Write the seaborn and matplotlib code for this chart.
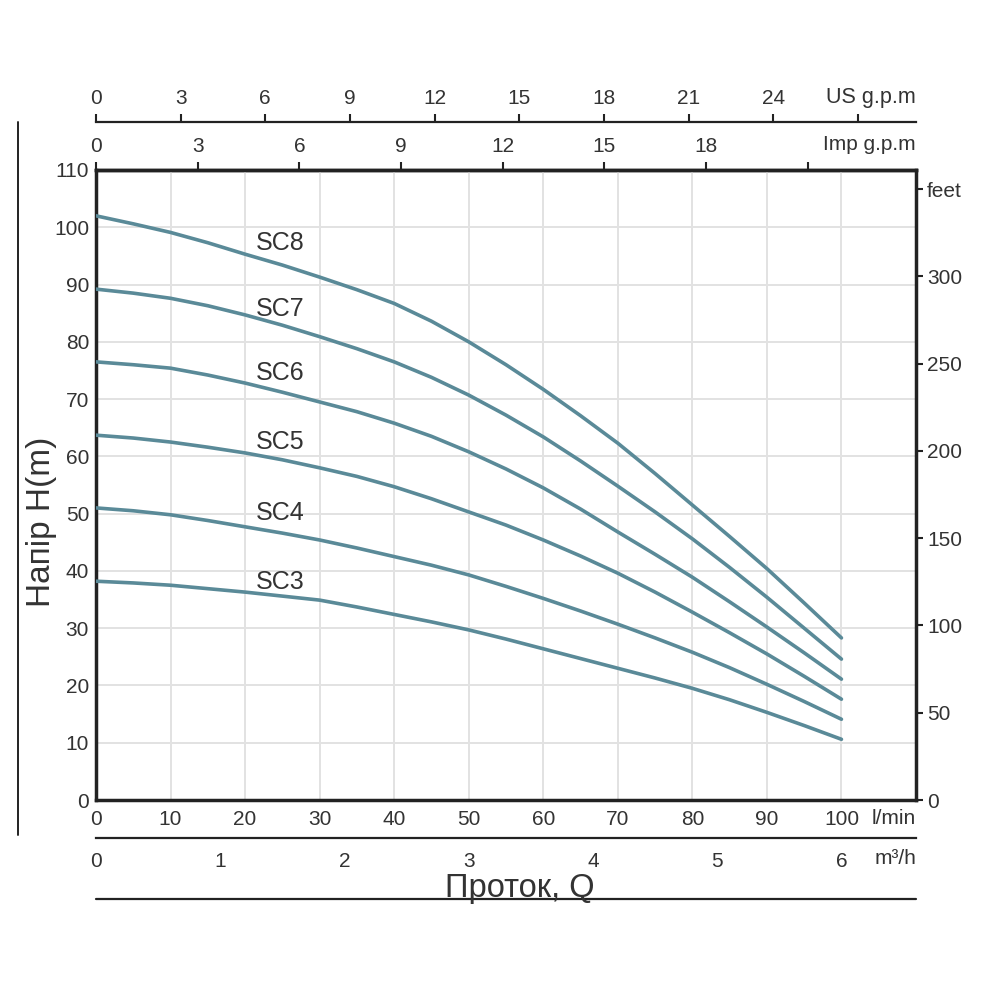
import numpy as np
import pandas as pd
import matplotlib
matplotlib.use("Agg")
import matplotlib.pyplot as plt
import seaborn as sns
from matplotlib.lines import Line2D

# ---------------- data ----------------
flow_lpm = [0, 5, 10, 15, 20, 25, 30, 35, 40, 45, 50,
            55, 60, 65, 70, 75, 80, 85, 90, 95, 100]
sc8 = [102.0, 100.6, 99.1, 97.3, 95.3, 93.4, 91.3, 89.1, 86.7, 83.6, 80.0,
       76.0, 71.7, 67.1, 62.3, 57.0, 51.5, 46.0, 40.4, 34.4, 28.3]
sc7 = [89.2, 88.5, 87.6, 86.3, 84.7, 82.9, 80.9, 78.8, 76.5, 73.8, 70.7,
       67.2, 63.4, 59.2, 54.8, 50.3, 45.6, 40.6, 35.4, 30.0, 24.6]
sc6 = [76.5, 76.0, 75.4, 74.2, 72.8, 71.2, 69.5, 67.8, 65.8, 63.5, 60.8,
       57.8, 54.5, 50.8, 46.8, 42.9, 38.9, 34.6, 30.2, 25.7, 21.1]
sc5 = [63.7, 63.2, 62.5, 61.6, 60.6, 59.4, 58.0, 56.5, 54.7, 52.6, 50.3,
       48.0, 45.4, 42.6, 39.6, 36.3, 32.8, 29.2, 25.5, 21.6, 17.6]
sc4 = [51.0, 50.5, 49.8, 48.8, 47.7, 46.6, 45.4, 44.0, 42.5, 41.0, 39.3,
       37.3, 35.2, 33.0, 30.7, 28.3, 25.8, 23.1, 20.2, 17.2, 14.1]
sc3 = [38.2, 37.9, 37.5, 36.9, 36.3, 35.6, 34.9, 33.7, 32.4, 31.1, 29.7,
       28.1, 26.4, 24.7, 23.0, 21.3, 19.5, 17.5, 15.3, 13.0, 10.6]
pump_names = ["SC3", "SC4", "SC5", "SC6", "SC7", "SC8"]
label_heads = [38.1, 50.1, 62.5, 74.6, 85.8, 97.3]
label_flow = 24.7

head_ticks = list(range(0, 111, 10))
flow_ticks = list(range(0, 101, 10))
feet_ticks = [0, 50, 100, 150, 200, 250, 300, 350]
feet_labels = ["0", "50", "100", "150", "200", "250", "300", "feet"]
us_ticks = [0, 3, 6, 9, 12, 15, 18, 21, 24, 27]
us_labels = ["0", "3", "6", "9", "12", "15", "18", "21", "24", ""]
imp_ticks = [0, 3, 6, 9, 12, 15, 18, 21]
imp_labels = ["0", "3", "6", "9", "12", "15", "18", ""]
m3h_ticks = [0, 1, 2, 3, 4, 5, 6]
m3h_labels = ["0", "1", "2", "3", "4", "5", "6"]

M_TO_FT = 3.2808
LPM_PER_USGPM = 3.785
LPM_PER_IMPGPM = 4.546
LPM_PER_M3H = 1000.0 / 60.0

# ---------------- style ----------------
sns.set_theme(style="white")
plt.rcParams["font.family"] = ["Liberation Sans", "DejaVu Sans"]
TXT = "#333333"
LINE = "#222222"
CURVE = "#5a8a98"

fig = plt.figure(figsize=(10, 10), dpi=100)
ax = fig.add_axes([0.096, 0.2, 0.82, 0.63])

series = [sc3, sc4, sc5, sc6, sc7, sc8]
df = pd.DataFrame({
    "flow": flow_lpm * len(series),
    "head": [v for s in series for v in s],
    "pump": [p for p in pump_names for _ in flow_lpm],
})
sns.lineplot(data=df, x="flow", y="head", hue="pump", palette=[CURVE] * 6,
             linewidth=2.6, legend=False, ax=ax, zorder=3)
for ln in ax.get_lines():
    ln.set_solid_joinstyle("round")

for name, yv in zip(pump_names, label_heads):
    ax.text(label_flow, yv, name, fontsize=18, color=TXT, ha="center", va="center")

ax.set_xlim(0, 110)
ax.set_ylim(0, 110)
ax.set_xticks(flow_ticks)
ax.set_xticklabels([str(v) for v in flow_ticks])
ax.set_yticks(head_ticks)
ax.set_yticklabels([str(v) for v in head_ticks])
ax.set_xticks([110], minor=True)
ax.grid(True, which="both", color="#e2e2e2", linewidth=1.4, zorder=0)
ax.tick_params(axis="x", length=0, labelsize=15, labelcolor=TXT, pad=7)
ax.tick_params(axis="y", length=0, labelsize=15, labelcolor=TXT, pad=5)
ax.set_xlabel("")
ax.set_ylabel("Напір H(m)", fontsize=24, color=TXT)
ax.yaxis.set_label_coords(-0.047, 0.441)
for sp in ax.spines.values():
    sp.set_linewidth(2.5)
    sp.set_color(LINE)

# right axis in feet
axr = ax.twinx()
axr.set_ylim(0, 110 * M_TO_FT)
axr.set_yticks(feet_ticks)
axr.set_yticklabels(feet_labels)
axr.tick_params(axis="y", direction="out", length=5, width=1.5, color=LINE,
                labelsize=15, labelcolor=TXT, pad=3)
axr.grid(False)
for sp in axr.spines.values():
    sp.set_visible(False)

# Imp g.p.m on top spine
imp = ax.secondary_xaxis("top", functions=(lambda x: x / LPM_PER_IMPGPM,
                                            lambda x: x * LPM_PER_IMPGPM))
imp.set_xticks(imp_ticks)
imp.set_xticklabels(imp_labels)
imp.tick_params(axis="x", direction="out", length=6, width=1.5, color=LINE,
                labelsize=15, labelcolor=TXT, pad=4)
imp.spines["top"].set_linewidth(2.5)
imp.spines["top"].set_color(LINE)

# US g.p.m separate scale line
us = fig.add_axes([0.096, 0.878, 0.82, 0.0001])
us.set_xlim(0, 110 / LPM_PER_USGPM)
us.set_facecolor("none")
for k in ["left", "right", "bottom"]:
    us.spines[k].set_visible(False)
us.spines["top"].set_linewidth(1.6)
us.spines["top"].set_color(LINE)
us.xaxis.tick_top()
us.set_xticks(us_ticks)
us.set_xticklabels(us_labels)
us.set_yticks([])
us.tick_params(axis="x", direction="out", length=6, width=1.5, color=LINE,
               labelsize=15, labelcolor=TXT, pad=4)

# m3/h separate scale line
m3 = fig.add_axes([0.096, 0.162, 0.82, 0.0001])
m3.set_xlim(0, 110 / LPM_PER_M3H)
m3.set_facecolor("none")
for k in ["left", "right", "top"]:
    m3.spines[k].set_visible(False)
m3.spines["bottom"].set_linewidth(1.6)
m3.spines["bottom"].set_color(LINE)
m3.set_xticks(m3h_ticks)
m3.set_xticklabels(m3h_labels)
m3.set_yticks([])
m3.tick_params(axis="x", direction="out", length=6, width=1.5, color=LINE,
               labelsize=15, labelcolor=TXT, pad=4)

# unit labels
fig.text(0.916, 0.902, "US g.p.m", fontsize=15.5, color=TXT, ha="right", va="center")
fig.text(0.916, 0.856, "Imp g.p.m", fontsize=15, color=TXT, ha="right", va="center")
fig.text(0.916, 0.182, "l/min", fontsize=15, color=TXT, ha="right", va="center")
fig.text(0.916, 0.142, "m³/h", fontsize=15, color=TXT, ha="right", va="center")
fig.text(0.52, 0.112, "Проток, Q", fontsize=23.5, color=TXT, ha="center", va="center")

# decorative frame lines
fig.add_artist(Line2D([0.096, 0.916], [0.101, 0.101], color=LINE, lw=1.6))
fig.add_artist(Line2D([0.018, 0.018], [0.165, 0.878], color=LINE, lw=1.4))

fig.savefig("out.png", dpi=100)
